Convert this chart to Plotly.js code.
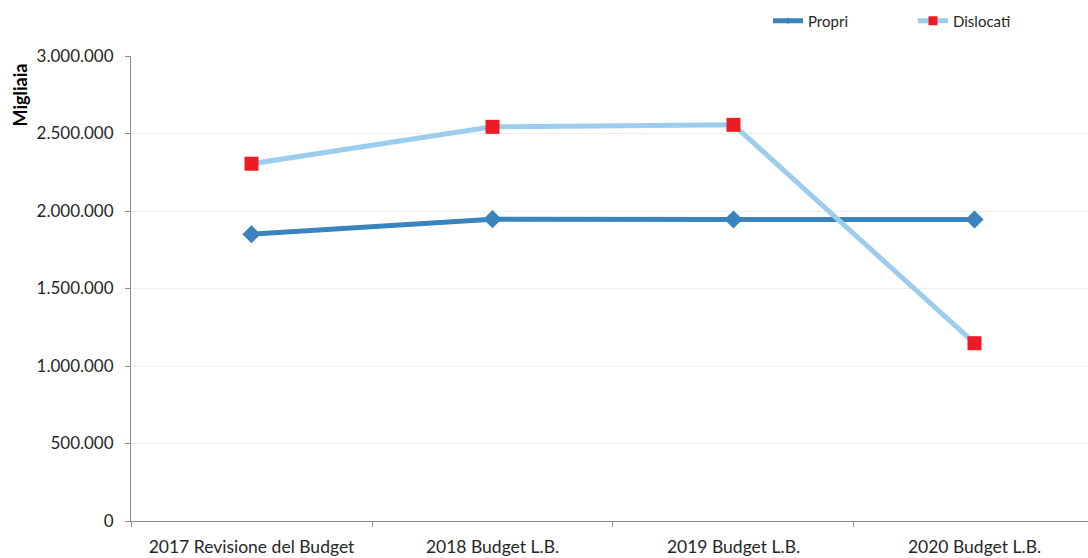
<!DOCTYPE html>
<html>
<head>
<meta charset="utf-8">
<script src="https://cdn.plot.ly/plotly-3.0.1.min.js"></script>
<style>html,body{margin:0;padding:0;background:#fff;}#chart{width:1088px;height:558px;}</style>
</head>
<body>
<div id="chart"></div>
<script>
const categories = ["2017 Revisione del Budget", "2018 Budget L.B.", "2019 Budget L.B.", "2020 Budget L.B."];
const propri = [1850000, 1947000, 1945000, 1945000];
const dislocati = [2305000, 2543000, 2556000, 1147000];
const seriesNames = ["Propri", "Dislocati"];
const yTicks = [0, 500000, 1000000, 1500000, 2000000, 2500000, 3000000];
const yAxisLabel = "Migliaia";

const FONT = "Lato, 'Open Sans', sans-serif";
const blue = "#3A83BD", light = "#9CCDEF", red = "#ED1C24";
const traces = [
  {
    x: categories, y: propri, name: seriesNames[0], type: "scatter", mode: "lines+markers",
    line: {color: blue, width: 5}, showlegend: false,
    marker: {symbol: "diamond", size: 14, color: blue}
  },
  {
    x: categories, y: dislocati, name: seriesNames[1], type: "scatter", mode: "lines+markers",
    line: {color: light, width: 5}, showlegend: false,
    marker: {symbol: "square", size: 14, color: red}
  },
  // legend-only entries (smaller legend markers, as in the original)
  {
    x: [null], y: [null], name: seriesNames[0], type: "scatter", mode: "lines+markers",
    line: {color: blue, width: 5}, marker: {symbol: "diamond", size: 5, color: blue}
  },
  {
    x: [null], y: [null], name: seriesNames[1], type: "scatter", mode: "lines+markers",
    line: {color: light, width: 5}, marker: {symbol: "square", size: 9, color: red}
  }
];
const layout = {
  width: 1088, height: 558,
  margin: {l: 131, r: 0, t: 56, b: 36.5, autoexpand: false},
  paper_bgcolor: "#fff", plot_bgcolor: "#fff",
  separators: ",.",
  font: {family: FONT, size: 16, color: "#262626"},
  showlegend: true,
  legend: {
    orientation: "h", xref: "container", yref: "container",
    x: 768 / 1088, xanchor: "left", y: 1 - 21 / 558, yanchor: "middle",
    font: {size: 15, color: "#262626"}, entrywidth: 100, entrywidthmode: "pixels",
    bgcolor: "rgba(0,0,0,0)"
  },
  xaxis: {
    type: "category", range: [-0.5, 3.471],
    showline: true, linecolor: "#8C8C8C", linewidth: 1,
    ticks: "outside", ticklen: 5, tickcolor: "#8C8C8C", tickson: "boundaries",
    ticklabelstandoff: 10,
    showgrid: false, tickfont: {size: 17.5, color: "#262626"}, fixedrange: true
  },
  yaxis: {
    range: [0, 3000000], tickvals: yTicks, tickformat: ",d",
    showline: true, linecolor: "#8C8C8C", linewidth: 1,
    ticks: "outside", ticklen: 5, tickcolor: "#8C8C8C", ticklabelstandoff: 8,
    showgrid: true, gridcolor: "#EEEEEE", gridwidth: 1, zeroline: false,
    tickfont: {size: 17, color: "#262626"}
  },
  annotations: [{
    text: "<b>" + yAxisLabel + "</b>", xref: "paper", yref: "paper",
    x: (20 - 131) / 957, y: (522 - 96) / 465.5, xanchor: "center", yanchor: "middle",
    textangle: -90, showarrow: false, font: {size: 18, color: "#000"}
  }]
};
Plotly.newPlot("chart", traces, layout, {displayModeBar: false, staticPlot: true});
</script>
</body>
</html>
